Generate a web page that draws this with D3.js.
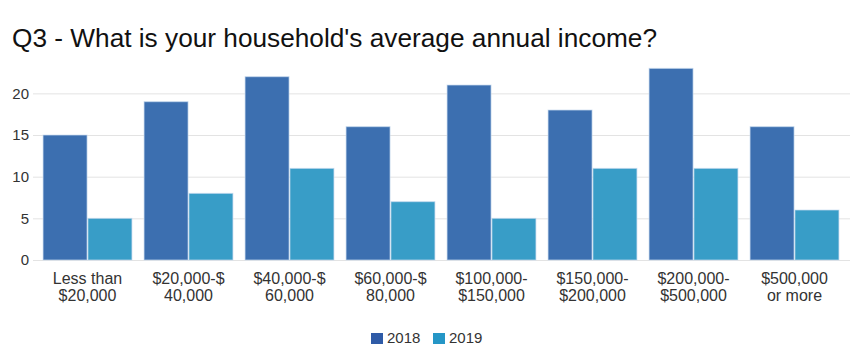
<!DOCTYPE html>
<html>
<head>
<meta charset="utf-8">
<script src="https://cdn.jsdelivr.net/npm/d3@7"></script>
<style>
  html, body { margin: 0; padding: 0; background: #fff; }
  svg { display: block; font-family: "Liberation Sans", Arial, Helvetica, sans-serif; }
</style>
</head>
<body>
<svg id="chart" width="850" height="360"></svg>
<script>
const categories = [
  ["Less than", "$20,000"],
  ["$20,000-$", "40,000"],
  ["$40,000-$", "60,000"],
  ["$60,000-$", "80,000"],
  ["$100,000-", "$150,000"],
  ["$150,000-", "$200,000"],
  ["$200,000-", "$500,000"],
  ["$500,000", "or more"]
];
const seriesNames = ["2018", "2019"];
const values2018 = [15, 19, 22, 16, 21, 18, 23, 16];
const values2019 = [5, 8, 11, 7, 5, 11, 11, 6];
const yTicks = [0, 5, 10, 15, 20];
const titleText = "Q3 - What is your household's average annual income?";

const barColors = ["#3c6fb0", "#389dc7"];
const legendColors = ["#2f5ba7", "#2596c6"];

const svg = d3.select("#chart");

const x0 = d3.scaleBand()
  .domain(d3.range(categories.length))
  .range([37, 845])
  .paddingInner(0.12)
  .paddingOuter(0.06);

const x1 = d3.scaleBand()
  .domain(seriesNames)
  .range([0, x0.bandwidth()])
  .paddingInner(0.02);

const y = d3.scaleLinear().domain([0, 25]).range([260, 51.7]);

// Title
svg.append("text")
  .attr("x", 12)
  .attr("y", 47)
  .attr("font-size", 26)
  .attr("fill", "#111")
  .attr("textLength", 645)
  .attr("lengthAdjust", "spacingAndGlyphs")
  .text(titleText);

// Grid
svg.append("g")
  .selectAll("line")
  .data(yTicks)
  .join("line")
  .attr("x1", 33).attr("x2", 850)
  .attr("y1", d => y(d) + 0.5).attr("y2", d => y(d) + 0.5)
  .attr("stroke", "#e3e3e3")
  .attr("stroke-width", 1);

// Y axis labels
const yAxis = d3.axisLeft(y).tickValues(yTicks).tickSize(0).tickPadding(0);
const yg = svg.append("g").attr("transform", "translate(29,0)").call(yAxis);
yg.select(".domain").remove();
yg.selectAll("text")
  .attr("font-size", 15)
  .attr("font-family", "'Liberation Sans', Arial, sans-serif")
  .attr("fill", "#333");

// Bars
const data = categories.map((c, i) => ({ i, vals: [values2018[i], values2019[i]] }));
const groups = svg.append("g").selectAll("g")
  .data(data)
  .join("g")
  .attr("transform", d => `translate(${x0(d.i)},0)`);

groups.selectAll("rect")
  .data(d => d.vals.map((v, k) => ({ k, v })))
  .join("rect")
  .attr("x", d => x1(seriesNames[d.k]))
  .attr("width", x1.bandwidth())
  .attr("y", d => y(d.v))
  .attr("height", d => y(0) - y(d.v))
  .attr("fill", d => barColors[d.k])
  .attr("stroke", "#c9dcef")
  .attr("stroke-opacity", 0.7)
  .attr("stroke-width", 1);

// X labels
const xl = svg.append("g");
categories.forEach((lines, i) => {
  const cx = x0(i) + x0.bandwidth() / 2;
  const t = xl.append("text")
    .attr("x", cx)
    .attr("y", 284)
    .attr("text-anchor", "middle")
    .attr("font-size", 16)
    .attr("fill", "#333");
  lines.forEach((ln, j) => {
    t.append("tspan")
      .attr("x", cx)
      .attr("dy", j === 0 ? 0 : 17)
      .text(ln);
  });
});

// Legend
const legendX = [371, 433];
const lg = svg.append("g");
seriesNames.forEach((s, k) => {
  lg.append("rect")
    .attr("x", legendX[k]).attr("y", 333)
    .attr("width", 12).attr("height", 11)
    .attr("fill", legendColors[k]);
  lg.append("text")
    .attr("x", legendX[k] + 16).attr("y", 343)
    .attr("font-size", 15)
    .attr("fill", "#333")
    .text(s);
});
</script>
</body>
</html>
